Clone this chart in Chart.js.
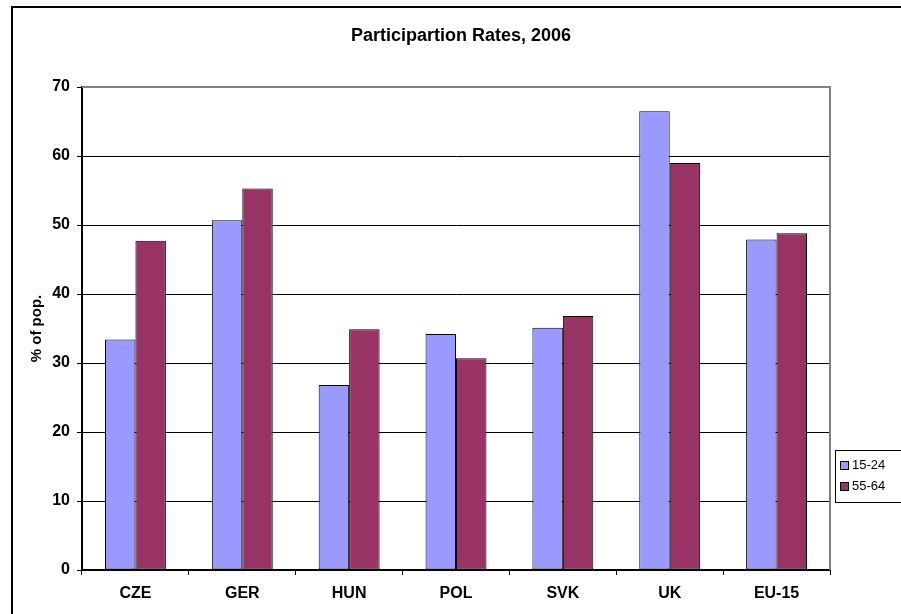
<!DOCTYPE html>
<html>
<head>
<meta charset="utf-8">
<script src="https://cdn.jsdelivr.net/npm/chart.js@4.4.1/dist/chart.umd.min.js"></script>
<style>
  html, body { margin: 0; padding: 0; background: #fff; }
  #wrap { width: 901px; height: 614px; }
</style>
</head>
<body>
<div id="wrap"><canvas id="mycanvas" width="901" height="614"></canvas></div>
<script>
var countries = ['CZE', 'GER', 'HUN', 'POL', 'SVK', 'UK', 'EU-15'];
var young = [33.4, 50.7, 26.8, 34.2, 35.1, 66.5, 47.9];
var older = [47.7, 55.3, 34.9, 30.7, 36.8, 59.0, 48.8];
var seriesNames = ['15-24', '55-64'];
var chartTitle = 'Participartion Rates, 2006';

var FONT = 'Arial, "Liberation Sans", sans-serif';

// outer frame, title, grey top/right plot border, and the legend box
var excelBits = {
	id: 'excelBits',
	beforeDraw: function(chart) {
		var c = chart.ctx;
		c.save();
		c.fillStyle = '#fff';
		c.fillRect(0, 0, chart.width, chart.height);
		c.strokeStyle = '#000';
		c.lineWidth = 2;
		c.strokeRect(12, 7, 1000, 1000);
		c.restore();
	},
	afterDraw: function(chart) {
		var c = chart.ctx;
		var a = chart.chartArea;
		c.save();
		c.fillStyle = '#000';
		c.font = 'bold 18px ' + FONT;
		c.textAlign = 'center';
		c.textBaseline = 'middle';
		c.fillText(chartTitle, 461, 36);

		c.strokeStyle = '#808080';
		c.lineWidth = 2;
		c.beginPath();
		c.moveTo(a.left, a.top);
		c.lineTo(a.right, a.top);
		c.lineTo(a.right, a.bottom);
		c.stroke();

		// legend
		c.textAlign = 'left';
		c.fillStyle = '#fff';
		c.fillRect(835, 450, 80, 52);
		c.strokeStyle = '#000';
		c.lineWidth = 1;
		c.strokeRect(835.5, 450.5, 80, 52);
		c.font = '13px ' + FONT;
		chart.data.datasets.forEach(function(ds, i) {
			var y = 465 + i * 21;
			c.fillStyle = ds.backgroundColor;
			c.fillRect(840, y - 4, 9, 9);
			c.strokeRect(840.5, y - 3.5, 8, 8);
			c.fillStyle = '#000';
			c.fillText(ds.label, 852, y);
		});
		c.restore();
	}
};

var ctx = document.getElementById('mycanvas');
var barGraph = new Chart(ctx, {
	type: 'bar',
	data: {
		labels: countries,
		datasets: [
			{
				label: seriesNames[0],
				data: young,
				backgroundColor: '#9999FF',
				borderColor: '#000',
				borderWidth: 1,
				borderSkipped: false
			},
			{
				label: seriesNames[1],
				data: older,
				backgroundColor: '#993366',
				borderColor: '#000',
				borderWidth: 1,
				borderSkipped: false
			}
		]
	},
	options: {
		responsive: false,
		animation: false,
		layout: { padding: { left: 0, right: 71, top: 87, bottom: 0 } },
		datasets: { bar: { categoryPercentage: 0.57, barPercentage: 1.0 } },
		plugins: {
			legend: { display: false },
			tooltip: { enabled: false },
			title: { display: false }
		},
		scales: {
			x: {
				grid: {
					offset: true,
					drawOnChartArea: false,
					drawTicks: true,
					tickLength: 5,
					color: '#000'
				},
				border: { color: '#000', width: 2 },
				ticks: {
					color: '#000',
					padding: 9,
					font: { family: FONT, size: 16, weight: 'bold' }
				},
				afterFit: function(scale) { scale.height = 44; }
			},
			y: {
				min: 0,
				max: 70,
				grid: { color: '#000', lineWidth: 1, tickLength: 5 },
				border: { color: '#000', width: 2 },
				ticks: {
					stepSize: 10,
					color: '#000',
					padding: 7,
					font: { family: FONT, size: 16, weight: 'bold' }
				},
				title: {
					display: true,
					text: '% of pop.',
					color: '#000',
					font: { family: FONT, size: 15, weight: 'bold' },
					padding: { top: 28, bottom: 0 }
				},
				afterFit: function(scale) { scale.width = 82; }
			}
		}
	},
	plugins: [excelBits]
});
</script>
</body>
</html>
